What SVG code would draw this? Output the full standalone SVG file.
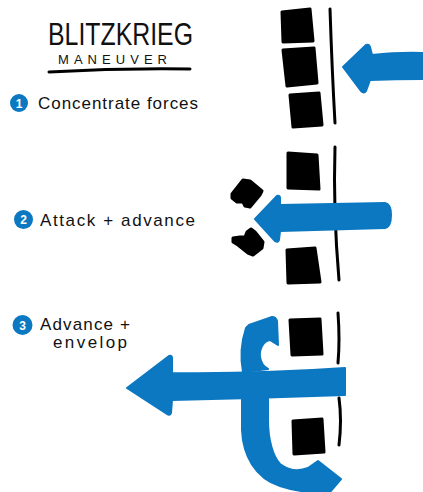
<svg xmlns="http://www.w3.org/2000/svg" width="423" height="492" viewBox="0 0 423 492">
<style>
.txt{font-family:"Liberation Sans","DejaVu Sans",sans-serif;fill:#111}
.blk{fill:#000;stroke:#000;stroke-width:3;stroke-linejoin:round}
.ln{fill:none;stroke:#000;stroke-width:3;stroke-linecap:round}
.blue{fill:#0b78c1;stroke:#0b78c1;stroke-width:2;stroke-linejoin:round}
.badge{fill:#0b78c1}
.num{font-family:"Liberation Sans","DejaVu Sans",sans-serif;font-weight:bold;font-size:12px;fill:#fff;text-anchor:middle}
</style>
<rect width="423" height="492" fill="#fff"/>

<g id="title">
  <text class="txt" x="48" y="44.5" font-size="31" textLength="145" lengthAdjust="spacingAndGlyphs">BLITZKRIEG</text>
  <text class="txt" x="58" y="64" font-size="13" textLength="109" lengthAdjust="spacing">MANEUVER</text>
  <path class="ln" d="M49,72 Q120,68 190,69" stroke-width="2"/>
</g>

<g id="step1-label">
  <circle class="badge" cx="19" cy="103" r="9"/>
  <text class="num" x="19" y="107.5">1</text>
  <text class="txt" x="38" y="109" font-size="17" textLength="160" lengthAdjust="spacing">Concentrate forces</text>
</g>

<g id="step1-line">
  <path class="blk" d="M282,12 L310,9 L313,41 L283,42 Z"/>
  <path class="blk" d="M283,50 L314,48 L317,83 L287,86 Z"/>
  <path class="blk" d="M290,95 L319,93 L322,125 L293,127 Z"/>
  <path class="ln" d="M330,9 Q332,70 335,123"/>
</g>

<g id="step2-label">
  <circle class="badge" cx="23.5" cy="219.5" r="9.5"/>
  <text class="num" x="23.5" y="224">2</text>
  <text class="txt" x="40" y="226" font-size="17" textLength="155" lengthAdjust="spacing">Attack + advance</text>
</g>

<g id="step2-line">
  <path class="blk" d="M288,153 L317,155 L319,189 L288,188 Z"/>
  <path class="blk" d="M287,250 L315,248 L320,282 L288,283 Z"/>
  <path class="blk" d="M232,194 L243,180 L250,181 L262,191 L260,195 L250,207 L245,206 L243,202 L237,202 L232,198 Z"/>
  <path class="blk" d="M233,238 L240,237 L245,237 L247,232 L251,229 L255,232 L263,242 L262,248 L253,255 L248,253 L238,245 L233,242 Z"/>
  <path class="ln" d="M335,147 Q333,210 339,280"/>
</g>

<g id="step3-label">
  <circle class="badge" cx="22.5" cy="325" r="10"/>
  <text class="num" x="22.5" y="329.5">3</text>
  <text class="txt" x="40" y="330" font-size="17" textLength="90" lengthAdjust="spacing">Advance +</text>
  <text class="txt" x="53" y="348" font-size="17" textLength="74" lengthAdjust="spacing">envelop</text>
</g>

<g id="step3-line">
  <path class="blk" d="M290,320 L320,319 L322,354 L292,355 Z"/>
  <path class="blk" d="M293,421 L322,419 L324,452 L294,454 Z"/>
  <path class="ln" d="M338,313 Q340,340 338,363"/>
  <path class="ln" d="M339,398 Q342,420 339,445"/>
</g>

<g id="arrows">
  <path class="blue" d="M343,67 L366,45 Q369,44 370,47 L372,55 Q400,52 423,53 L423,79 Q395,79 370,80 L366,91 Q364,94 361,91 Z"/>
  <path class="blue" d="M255,219 L277,196 Q280,195 280,198 L280,205 L385,203 Q391,204 391,215 Q391,227 385,228 L280,231 L279,240 Q278,243 275,241 Z"/>
  <path class="blue" d="M127,388 L169,356 Q172,355 172,358 L172,373 Q260,374 345,368 L345,395 Q260,398 172,400 L171,413 Q170,416 167,414 Z"/>
  <path class="blue" d="M243,372 C240,356 242,340 246,328 L249,325 L272,317 Q276,317 277,321 L278,345 L270,340 C264,341 259,348 260,357 C261,364 264,367 268,369 Z"/>
  <path class="blue" d="M242,396 L242,430 C243,455 255,478 280,486 C292,490 305,492 315,492 L330,492 L341,479 L318,461 L308,468 C298,472 288,470 280,464 C273,457 268,440 268,420 L268,396 Z"/>
</g>
</svg>
